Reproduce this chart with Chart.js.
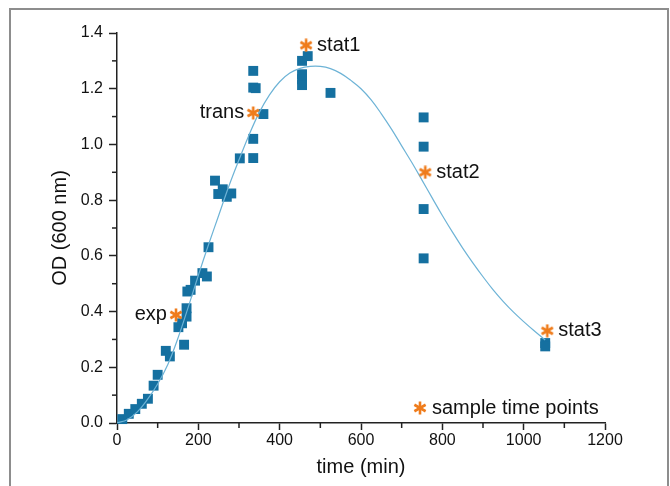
<!DOCTYPE html>
<html>
<head>
<meta charset="utf-8">
<script src="https://cdn.jsdelivr.net/npm/chart.js@4.4.0/dist/chart.umd.min.js"></script>
<style>
  html, body { margin: 0; padding: 0; background: #fff; }
  #wrap { position: relative; width: 670px; height: 486px; overflow: hidden; }
  #frame { position: absolute; left: 9px; top: 8px; width: 656px; height: 520px; border: 2px solid #8d8d8d; }
  #odChart { position: absolute; left: 0; top: 0; }
</style>
</head>
<body>
<div id="wrap">
  <div id="frame"></div>
  <canvas id="odChart" width="670" height="486"></canvas>
</div>
<script>
// 測定値 (time, OD)
const timeMin = [13, 29, 45, 61, 76, 90, 100, 120, 130, 151, 160, 165, 171, 171, 173, 181, 192, 210, 221, 225,
                 241, 249, 260, 270, 281, 302, 335, 335, 341, 335, 335, 360, 455, 469, 455, 455, 455, 525,
                 754, 754, 754, 754, 1053, 1053];
const odValue = [0.014, 0.033, 0.05, 0.069, 0.087, 0.134, 0.173, 0.259, 0.239, 0.344, 0.358, 0.281, 0.412, 0.382,
                 0.472, 0.478, 0.511, 0.538, 0.526, 0.631, 0.870, 0.822, 0.839, 0.812, 0.824, 0.950, 1.264, 1.204,
                 1.202, 1.020, 0.951, 1.109, 1.300, 1.317, 1.252, 1.234, 1.213, 1.185, 1.097, 0.992, 0.768, 0.591,
                 0.287, 0.275];

// フィット曲線
const fitTime = [0, 25, 50, 75, 100, 125, 150, 175, 200, 225, 250, 275, 300, 325, 350, 375, 400, 425, 450, 475,
                 500, 525, 550, 575, 600, 625, 650, 675, 700, 725, 750, 775, 800, 825, 850, 875, 900, 925, 950,
                 975, 1000, 1025, 1053];
const fitOD = [0.0, 0.012, 0.04, 0.085, 0.14, 0.21, 0.305, 0.415, 0.53, 0.64, 0.745, 0.85, 0.945, 1.035, 1.115,
               1.178, 1.225, 1.256, 1.273, 1.28, 1.28, 1.272, 1.255, 1.23, 1.20, 1.16, 1.11, 1.055, 0.995, 0.935,
               0.872, 0.808, 0.745, 0.685, 0.628, 0.575, 0.525, 0.478, 0.436, 0.398, 0.364, 0.332, 0.298];

// サンプル採取時点
const sampleTime = [145, 335, 465, 758, 1058];
const sampleOD = [0.388, 1.113, 1.356, 0.900, 0.331];
const sampleNames = ["exp", "trans", "stat1", "stat2", "stat3"];

const xTicks = [0, 200, 400, 600, 800, 1000, 1200];
const yTicks = [0.0, 0.2, 0.4, 0.6, 0.8, 1.0, 1.2, 1.4];

const FONT = "'Liberation Sans', Arial, sans-serif";
const ORANGE = '#ef7c1c';

// アスタリスク形のマーカー
function makeStar(size) {
    const c = document.createElement('canvas');
    c.width = size; c.height = size;
    const g = c.getContext('2d');
    g.strokeStyle = ORANGE;
    g.lineWidth = 2.6;
    const r = size / 2 - 0.5;
    for (let k = 0; k < 3; k++) {
        const a = Math.PI / 2 + k * Math.PI / 3;
        g.beginPath();
        g.moveTo(size / 2 + Math.cos(a) * r, size / 2 + Math.sin(a) * r);
        g.lineTo(size / 2 - Math.cos(a) * r, size / 2 - Math.sin(a) * r);
        g.stroke();
    }
    return c;
}
const starImg = makeStar(14);

// 副目盛り・ラベル・凡例
const extras = {
    id: 'extras',
    afterDraw(chart) {
        const ctx = chart.ctx;
        const xs = chart.scales.x, ys = chart.scales.y;
        const area = chart.chartArea;
        ctx.save();
        ctx.strokeStyle = '#222';
        ctx.lineWidth = 1.5;
        for (let v = 100; v < 1200; v += 200) {
            const px = xs.getPixelForValue(v);
            ctx.beginPath(); ctx.moveTo(px, area.bottom); ctx.lineTo(px, area.bottom + 5); ctx.stroke();
        }
        for (let i = 1; i < 14; i += 2) {
            const py = ys.getPixelForValue(i / 10);
            ctx.beginPath(); ctx.moveTo(area.left, py); ctx.lineTo(area.left - 5, py); ctx.stroke();
        }

        ctx.font = '20px ' + FONT;
        ctx.fillStyle = '#111';
        ctx.textBaseline = 'middle';
        sampleNames.forEach((name, i) => {
            const px = xs.getPixelForValue(sampleTime[i]);
            const py = ys.getPixelForValue(sampleOD[i]);
            if (i < 2) {
                ctx.textAlign = 'right';
                ctx.fillText(name, px - 9, py);
            } else {
                ctx.textAlign = 'left';
                ctx.fillText(name, px + 11, py);
            }
        });

        const lx = area.right - 185, ly = area.bottom - 15;
        ctx.drawImage(starImg, lx - 7, ly - 7);
        ctx.textAlign = 'left';
        ctx.fillText('sample time points', lx + 12, ly);
        ctx.restore();
    }
};

const ctx = document.getElementById('odChart').getContext('2d');
const odChart = new Chart(ctx, {
    type: 'scatter',
    data: {
        datasets: [
            {
                label: 'OD',
                data: timeMin.map((t, i) => ({ x: t, y: odValue[i] })),
                pointStyle: 'rect',
                pointRadius: 7,
                pointBackgroundColor: '#1570a0',
                pointBorderWidth: 0,
                order: 3,
                clip: false
            },
            {
                type: 'line',
                label: 'fit',
                data: fitTime.map((t, i) => ({ x: t, y: fitOD[i] })),
                borderColor: '#6db3d6',
                borderWidth: 1.2,
                pointRadius: 0,
                fill: false,
                tension: 0.4,
                order: 2
            },
            {
                label: 'sample time points',
                data: sampleTime.map((t, i) => ({ x: t, y: sampleOD[i] })),
                pointStyle: starImg,
                order: 1,
                clip: false
            }
        ]
    },
    options: {
        responsive: false,
        animation: false,
        devicePixelRatio: 1,
        layout: { padding: { top: 33, right: 65, bottom: 0, left: 0 } },
        plugins: { legend: { display: false }, tooltip: { enabled: false } },
        scales: {
            x: {
                type: 'linear',
                min: 0, max: 1200,
                afterBuildTicks: s => { s.ticks = xTicks.map(v => ({ value: v })); },
                afterFit: s => { s.height = 63; },
                ticks: { font: { size: 16, family: FONT }, color: '#111', padding: 1, callback: v => String(v) },
                grid: { drawOnChartArea: false, tickLength: 7, tickColor: '#222', tickWidth: 1.5 },
                border: { color: '#222', width: 1.5 },
                title: { display: true, text: 'time (min)', font: { size: 20, family: FONT }, color: '#111', padding: { bottom: 7 } }
            },
            y: {
                type: 'linear',
                min: 0, max: 1.4,
                afterBuildTicks: s => { s.ticks = yTicks.map(v => ({ value: v })); },
                afterFit: s => { s.width = 117; },
                ticks: { font: { size: 16, family: FONT }, color: '#111', padding: 6, callback: v => v.toFixed(1) },
                grid: { drawOnChartArea: false, tickLength: 8, tickColor: '#222', tickWidth: 1.5 },
                border: { color: '#222', width: 1.5 },
                title: { display: true, text: 'OD (600 nm)', font: { size: 20, family: FONT }, color: '#111', padding: { top: 48 } }
            }
        }
    },
    plugins: [extras]
});
</script>
</body>
</html>
